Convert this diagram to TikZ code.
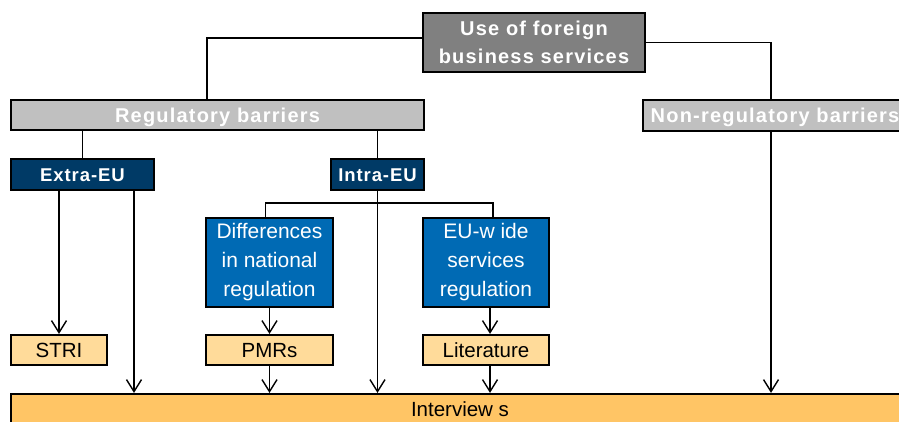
\documentclass[tikz,border=0pt]{standalone}
\usepackage{fontspec}
\setmainfont{Liberation Sans}
\newfontfamily\widefont{Liberation Sans}[LetterSpace=6]
\newfontfamily\tabfont{Liberation Sans}[LetterSpace=5]
\usepackage{xcolor}
\usepackage{tikz}
\usetikzlibrary{arrows.meta}
\definecolor{topgrey}{HTML}{808080}
\definecolor{bargrey}{HTML}{C0C0C0}
\definecolor{navyblue}{HTML}{003A66}
\definecolor{midblue}{HTML}{006AB4}
\definecolor{paleorange}{HTML}{FFDB9A}
\definecolor{intvorange}{HTML}{FFC565}

\begin{document}
\begin{tikzpicture}[x=1pt,y=-1pt,
  box/.style={draw=black,line width=2.2pt,inner sep=0pt},
  head/.style={box,font=\widefont\bfseries\fontsize{20}{28}\selectfont,text=white,align=center},
  tab/.style={box,font=\tabfont\bfseries\fontsize{18.5}{20}\selectfont,text=white,fill=navyblue,
    text height=13.2pt,text depth=0pt,minimum height=31},
  plain/.style={box,font=\fontsize{20.5}{29}\selectfont,align=center},
  blue/.style={box,font=\fontsize{21}{29}\selectfont,align=center,text=white,fill=midblue,minimum height=89},
  oneline/.style={text height=14.3pt,text depth=0pt},
  line/.style={line width=1.4pt},
  arr/.style={line,-{Straight Barb[length=12pt,width=15pt]}}]
\useasboundingbox (0,0) rectangle (899,421);
\node[head,fill=topgrey,minimum width=222,minimum height=59] (use) at (534,42.5) {Use of foreign\\business services};
\node[head,oneline,fill=bargrey,minimum width=413,minimum height=30] (reg) at (217.5,115) {Regulatory barriers};
\node[head,oneline,fill=bargrey,minimum width=264,minimum height=31] (nonreg) at (775,115.5) {Non-regulatory barriers};
\node[tab,minimum width=143] (extra) at (82.5,174.5) {Extra-EU};
\node[tab,minimum width=93] (intra) at (377.5,174.5) {Intra-EU};
\node[blue,minimum width=127] (diff) at (269.5,262.5) {Differences\\in national\\regulation};
\node[blue,minimum width=126] (euwide) at (486,262.5) {EU-w ide\\services\\regulation};
\node[plain,oneline,text height=14.6pt,fill=paleorange,minimum width=96,minimum height=30] (stri) at (59,350) {STRI};
\node[plain,oneline,text height=14.6pt,fill=paleorange,minimum width=127,minimum height=30] (pmrs) at (269.5,350) {PMRs};
\node[plain,oneline,text height=14.6pt,fill=paleorange,minimum width=126,minimum height=30] (lit) at (486,350) {Literature};
\node[plain,oneline,text height=14.6pt,fill=intvorange,minimum width=898,minimum height=31] (intv) at (460,409.5) {Interview s};

\draw[line] ([yshift=4.5pt]use.west) -| ([xshift=-10.5pt]reg.north);
\draw[line] (use.east) -| ([xshift=-4pt]nonreg.north);
\draw[line] (extra.north) -- (extra.north |- reg.south);
\draw[line] (intra.north) -- (intra.north |- reg.south);
\draw[line] ([xshift=-4pt]diff.north) -- ++(0,-14) -| ([xshift=7pt]euwide.north);
\draw[arr] (extra.south -| stri.north) -- (stri.north);
\draw[arr] ([xshift=51.5pt]extra.south) coordinate (ex2) -- (ex2 |- intv.north);
\draw[arr] (intra.south) -- (intra.south |- intv.north);
\draw[arr] (diff.south) -- (pmrs.north);
\draw[arr] (pmrs.south) -- (pmrs.south |- intv.north);
\draw[arr] ([xshift=4pt]euwide.south) -- ([xshift=4pt]lit.north);
\draw[arr] ([xshift=4pt]lit.south) coordinate (lt2) -- (lt2 |- intv.north);
\draw[arr] ([xshift=-4pt]nonreg.south) coordinate (nr2) -- (nr2 |- intv.north);
\end{tikzpicture}
\end{document}
